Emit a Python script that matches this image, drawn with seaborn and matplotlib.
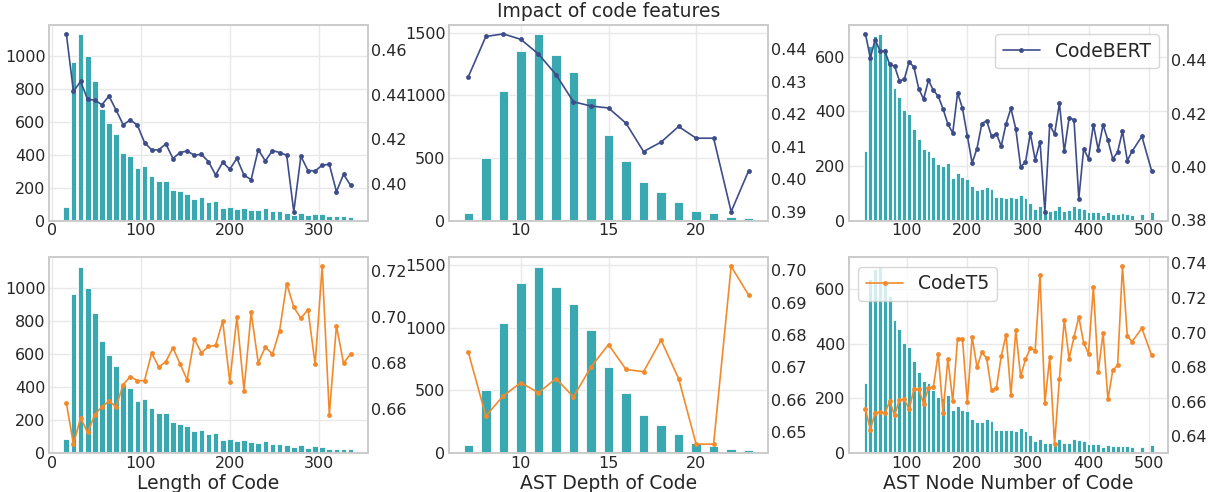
import seaborn as sns
import matplotlib.pyplot as plt
import matplotlib.ticker as mticker

# bins (x positions) for each code feature
length_x = [16, 24, 32, 40, 48, 56, 64, 72, 80, 88, 96, 104, 112, 120, 128, 136, 144,
            152, 160, 168, 176, 184, 192, 200, 208, 216, 224, 232, 240, 248, 256, 264,
            272, 280, 288, 296, 304, 312, 320, 328, 336]
depth_x = [7, 8, 9, 10, 11, 12, 13, 14, 15, 16, 17, 18, 19, 20, 21, 22, 23]
nodes_x = [32, 40, 48, 56, 64, 72, 80, 88, 96, 104, 112, 120, 128, 136, 144, 152, 160,
           168, 176, 184, 192, 200, 208, 216, 224, 232, 240, 248, 256, 264, 272, 280,
           288, 296, 304, 312, 320, 328, 336, 344, 352, 360, 368, 376, 384, 392, 400,
           408, 416, 424, 432, 440, 448, 456, 464, 472, 488, 504]

# number of samples per bin
length_count = [84, 965, 1130, 1000, 848, 678, 592, 525, 412, 393, 318, 328, 272, 240,
                240, 188, 178, 162, 133, 140, 115, 120, 77, 85, 72, 76, 65, 62, 73, 55,
                57, 47, 35, 47, 33, 42, 37, 26, 26, 25, 22]
depth_count = [64, 503, 1037, 1358, 1489, 1326, 1190, 981, 687, 479, 307, 225, 152, 80,
               59, 32, 21]
nodes_count = [255, 640, 675, 683, 632, 577, 486, 454, 404, 389, 336, 298, 263, 255, 232,
               207, 201, 212, 156, 173, 158, 153, 125, 113, 115, 123, 117, 85, 85, 83,
               85, 82, 92, 81, 66, 44, 52, 37, 36, 40, 52, 36, 38, 52, 47, 43, 33, 32,
               33, 22, 30, 25, 25, 27, 25, 22, 23, 30]

# CodeBERT scores
codebert_length = [0.4674, 0.4415, 0.4460, 0.4379, 0.4376, 0.4355, 0.4394, 0.4331, 0.4265,
                   0.4287, 0.4263, 0.4185, 0.4152, 0.4152, 0.4179, 0.4113, 0.4140, 0.4147,
                   0.4128, 0.4132, 0.4099, 0.4039, 0.4096, 0.4065, 0.4114, 0.4038, 0.4018,
                   0.4153, 0.4102, 0.4149, 0.4140, 0.4128, 0.3874, 0.4123, 0.4059, 0.4057,
                   0.4083, 0.4087, 0.3964, 0.4042, 0.3992]
codebert_depth = [0.4315, 0.4439, 0.4447, 0.4430, 0.4385, 0.4322, 0.4238, 0.4225, 0.4219,
                  0.4172, 0.4085, 0.4114, 0.4162, 0.4126, 0.4126, 0.3900, 0.4026]
codebert_nodes = [0.4500, 0.4410, 0.4478, 0.4436, 0.4435, 0.4385, 0.4379, 0.4324, 0.4329,
                  0.4395, 0.4375, 0.4293, 0.4255, 0.4326, 0.4288, 0.4266, 0.4218, 0.4161,
                  0.4128, 0.4278, 0.4221, 0.4118, 0.4015, 0.4069, 0.4163, 0.4174, 0.4115,
                  0.4125, 0.4078, 0.4163, 0.4220, 0.4143, 0.4001, 0.4018, 0.4126, 0.4026,
                  0.4095, 0.3832, 0.4159, 0.4123, 0.4239, 0.4058, 0.4184, 0.4178, 0.3881,
                  0.4068, 0.4031, 0.4159, 0.4065, 0.4158, 0.4100, 0.4030, 0.4056, 0.4134,
                  0.4024, 0.4059, 0.4115, 0.3986]

# CodeT5 scores
codet5_length = [0.6626, 0.6447, 0.6561, 0.6498, 0.6575, 0.6610, 0.6633, 0.6610, 0.6706,
                 0.6741, 0.6723, 0.6723, 0.6843, 0.6782, 0.6806, 0.6866, 0.6796, 0.6726,
                 0.6905, 0.6844, 0.6872, 0.6876, 0.6982, 0.6719, 0.7000, 0.6680, 0.7020,
                 0.6800, 0.6869, 0.6838, 0.6940, 0.7145, 0.7043, 0.6994, 0.7032, 0.6795,
                 0.7220, 0.6575, 0.6962, 0.6799, 0.6840]
codet5_depth = [0.6746, 0.6549, 0.6612, 0.6652, 0.6621, 0.6665, 0.6608, 0.6701, 0.6770,
                0.6693, 0.6686, 0.6784, 0.6665, 0.6462, 0.6462, 0.7012, 0.6923]
codet5_nodes = [0.6556, 0.6438, 0.6535, 0.6540, 0.6533, 0.6602, 0.6521, 0.6610, 0.6613,
                0.6556, 0.6671, 0.6671, 0.6588, 0.6681, 0.6683, 0.6877, 0.6535, 0.6848,
                0.6602, 0.6965, 0.6965, 0.6598, 0.6975, 0.6800, 0.6885, 0.6850, 0.6665,
                0.6677, 0.6862, 0.6988, 0.6637, 0.7013, 0.6746, 0.6844, 0.6910, 0.6894,
                0.7333, 0.6592, 0.6856, 0.6354, 0.6733, 0.7073, 0.6848, 0.6973, 0.7090,
                0.6940, 0.6877, 0.7265, 0.6771, 0.6998, 0.6613, 0.6781, 0.6810, 0.7383,
                0.6977, 0.6948, 0.7025, 0.6869]

xlabels = ['Length of Code', 'AST Depth of Code', 'AST Node Number of Code']

BAR_COLOR = '#39a8b0'
BERT_COLOR = '#3d4d89'
T5_COLOR = '#f28a2c'


def draw_panel(ax, x, counts, scores, color, width, step, ystep, label):
    sns.barplot(x=x, y=counts, native_scale=True, width=width, color=BAR_COLOR,
                saturation=1, edgecolor='white', linewidth=0.6, errorbar=None, ax=ax)
    ax2 = ax.twinx()
    sns.lineplot(x=x, y=scores, ax=ax2, color=color, marker='o', markersize=3.5,
                 markeredgewidth=0, linewidth=1.2, legend=False, label=label)
    ax2.grid(False)
    ax.xaxis.set_major_locator(mticker.MultipleLocator(step))
    ax2.yaxis.set_major_locator(mticker.MultipleLocator(ystep))
    ax2.yaxis.set_major_formatter(mticker.FormatStrFormatter('%.2f'))
    ax.set_ylabel('')
    ax2.set_ylabel('')
    ax.set_xlabel('')
    return ax2


sns.set_theme(style="whitegrid")
plt.rcParams.update({
    'font.family': ['DejaVu Sans'],
    'xtick.labelsize': 11.5,
    'ytick.labelsize': 11.5,
    'xtick.major.size': 0,
    'ytick.major.size': 0,
    'xtick.major.pad': 2,
    'ytick.major.pad': 2.5,
    'axes.edgecolor': '#cccccc',
    'grid.color': '#e8e8e8',
    'text.color': '#262626',
    'xtick.color': '#262626',
    'ytick.color': '#262626',
})

fig, axes = plt.subplots(2, 3, figsize=(12.15, 4.92), dpi=100)
fig.subplots_adjust(left=49 / 1215, right=1168 / 1215, top=1 - 25 / 492,
                    bottom=1 - 453 / 492, wspace=0.254, hspace=0.189)

panels = [
    (length_x, length_count, codebert_length, codet5_length, 0.8, 100, 0.02),
    (depth_x, depth_count, codebert_depth, codet5_depth, 0.55, 5, 0.01),
    (nodes_x, nodes_count, codebert_nodes, codet5_nodes, 0.8, 100, 0.02),
]

for col, (x, counts, bert, t5, width, step, ystep) in enumerate(panels):
    top2 = draw_panel(axes[0, col], x, counts, bert, BERT_COLOR, width, step, ystep,
                      'CodeBERT')
    bot2 = draw_panel(axes[1, col], x, counts, t5, T5_COLOR, width, step, ystep, 'CodeT5')
    axes[1, col].set_xlabel(xlabels[col], fontsize=13.5, labelpad=2)
    if col == 2:
        top2.legend(loc='upper right', fontsize=13.5)
        bot2.legend(loc='upper left', fontsize=13.5)

axes[0, 1].set_title('Impact of code features', fontsize=13.5, pad=6)

fig.savefig('out.png', dpi=100)
plt.close()
